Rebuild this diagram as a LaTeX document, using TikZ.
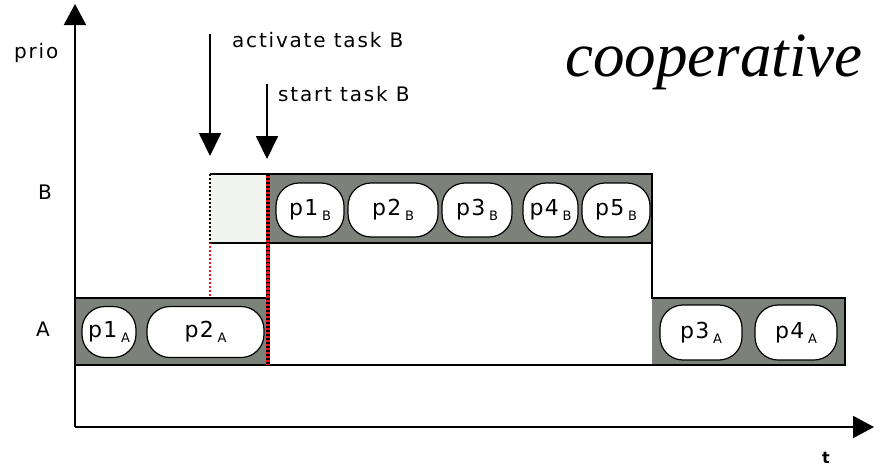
\documentclass[tikz,border=0pt]{standalone}
\usepackage{fontspec}
\usetikzlibrary{arrows.meta}
\newfontfamily\lblfont[LetterSpace=9]{DejaVu Sans}
\newfontfamily\procfont[LetterSpace=6]{DejaVu Sans}
\newfontfamily\titlefont{Liberation Serif}
\definecolor{runfill}{RGB}{124,129,122}
\definecolor{waitfill}{RGB}{239,244,239}
\definecolor{markred}{RGB}{240,20,20}
\newcommand{\proc}[2]{p#1\,\raisebox{-5pt}{\fontsize{13}{13}\selectfont #2}}
\begin{document}
\begin{tikzpicture}[x=1pt,y=-1pt,
  lbl/.style={font=\lblfont\fontsize{20}{22}\selectfont, inner sep=0pt},
  row/.style={fill=runfill},
  pill/.style={draw=black, line width=1.2pt, fill=white, rounded corners=23pt, inner sep=0pt,
    font=\procfont\fontsize{22}{24}\selectfont},
  axis/.style={line width=2pt, -{Triangle[width=22pt,length=21pt]}},
  evt/.style={line width=1.8pt, -{Triangle[width=22pt,length=23pt]}}]
\useasboundingbox (0,0) rectangle (881,467);

% corner points of the task rows
\coordinate (a1nw) at (75,298);   \coordinate (a1se) at (268,365);
\coordinate (bnw) at (268,174);   \coordinate (bse) at (652,243);
\coordinate (a2nw) at (652,298);  \coordinate (a2se) at (845,365);
\coordinate (wnw) at (210,174);   \coordinate (wse) at (268,243);

% task rows
\fill[row] (a1nw) rectangle (a1se);
\fill[row] (bnw) rectangle (bse);
\fill[row] (a2nw) rectangle (a2se);
\fill[waitfill] (wnw) rectangle (wse);
\draw[line width=1.4pt] (a1se) -- (a1nw -| a1se) -- (a1nw) -- (a1nw |- a1se) -- (a2se)
      -- (a2nw -| a2se) -- (a2nw) -- (bse) -- (bnw -| bse) -- (wnw) (wnw |- wse) -- (bse);

% event markers
\draw[markred, line width=2pt, dash pattern=on 1.5pt off 2.5pt] (wnw) -- (wnw |- a1nw);
\draw[black, line width=1.6pt, dash pattern=on 2pt off 2pt] (wnw) -- (wnw |- wse);
\draw[markred, line width=3.5pt] (bnw) -- (a1se);
\draw[black, line width=3.5pt, dash pattern=on 2pt off 2pt] (bnw) -- (a1se);
\draw[markred, line width=2pt, dash pattern=on 2pt off 2pt] (wse) -- (a1nw -| a1se);

% processes of task A
\node[pill, minimum width=54pt, minimum height=51pt] (p1A) at (109,332) {\proc{1}{A}};
\node[pill, minimum width=117pt, minimum height=51pt] (p2A) at (205.5,332) {\proc{2}{A}};
\node[pill, minimum width=82pt, minimum height=55pt] (p3A) at (701,332.5) {\proc{3}{A}};
\node[pill, minimum width=82pt, minimum height=55pt] (p4A) at (796,332.5) {\proc{4}{A}};
% processes of task B
\node[pill, minimum width=68pt, minimum height=54pt] (p1B) at (310,210) {\proc{1}{B}};
\node[pill, minimum width=90pt, minimum height=54pt] (p2B) at (393,210) {\proc{2}{B}};
\node[pill, minimum width=70pt, minimum height=54pt] (p3B) at (477,210) {\proc{3}{B}};
\node[pill, minimum width=55pt, minimum height=54pt] (p4B) at (550.5,210) {\proc{4}{B}};
\node[pill, minimum width=68pt, minimum height=54pt] (p5B) at (616,210) {\proc{5}{B}};

% axes
\coordinate (origin) at (75,427);
\coordinate (ytip) at (75,4);
\coordinate (xtip) at (874,427);
\draw[axis] (origin) -- (ytip);
\draw[axis] (origin) -- (xtip);

% labels
\node[lbl, anchor=base west] (prio) at (14,58) {prio};
\node[lbl, anchor=base] (labB) at (45,199) {B};
\node[lbl, anchor=base] (labA) at (43,336) {A};
\node[font=\lblfont\bfseries\fontsize{16}{16}\selectfont, inner sep=0pt, anchor=base] (labt) at (826,463) {t};
\node[lbl, anchor=base west] (actlbl) at (232,47) {activate task B};
\node[lbl, anchor=base west] (startlbl) at (278,101) {start task B};
\node[font=\titlefont\itshape\fontsize{63}{63}\selectfont, inner sep=0pt, anchor=base] (title) at (714,76) {cooperative};

% event arrows
\coordinate (actfrom) at (210,34);
\coordinate (actto) at (210,156);
\coordinate (startfrom) at (267,84);
\coordinate (startto) at (267,159);
\draw[evt] (actfrom) -- (actto);
\draw[evt] (startfrom) -- (startto);
\end{tikzpicture}
\end{document}
